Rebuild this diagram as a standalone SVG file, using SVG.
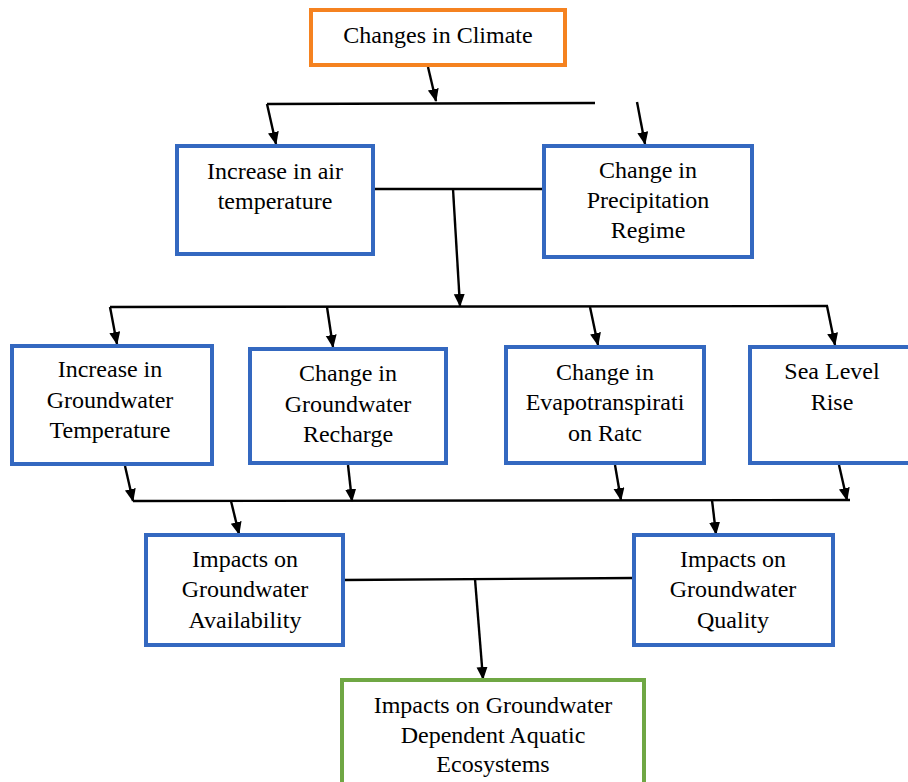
<svg xmlns="http://www.w3.org/2000/svg" width="908" height="782" viewBox="0 0 908 782">
<defs>
<style>
.box{fill:#fff;stroke-width:4}
.blue{stroke:#3468C0}
.orange{stroke:#F58220}
.green{stroke:#6FA744}
text{font-family:"Liberation Serif","Times New Roman",serif;font-size:24px;fill:#000;text-anchor:middle}
.ln{stroke:#000;stroke-width:2.4;fill:none}
.ar{stroke:#000;stroke-width:2.4;fill:none;marker-end:url(#ah)}
</style>
<marker id="ah" markerUnits="userSpaceOnUse" markerWidth="14" markerHeight="12" refX="12" refY="5.5" orient="auto">
<path d="M0,0 L13,5.5 L0,11 Z" fill="#000"/>
</marker>
</defs>
<rect width="908" height="782" fill="#fff"/>
<g id="connectors">
<line class="ar" x1="428" y1="67" x2="436" y2="101"/>
<line class="ln" x1="267" y1="104" x2="595" y2="103"/>
<line class="ar" x1="267" y1="104" x2="276" y2="144"/>
<line class="ar" x1="637" y1="102" x2="645" y2="144"/>
<line class="ln" x1="373" y1="189" x2="544" y2="189"/>
<line class="ar" x1="453" y1="189" x2="460" y2="306"/>
<line class="ln" x1="110" y1="307" x2="828" y2="306"/>
<line class="ar" x1="110" y1="307" x2="117" y2="344"/>
<line class="ar" x1="327" y1="307" x2="333" y2="347"/>
<line class="ar" x1="590" y1="307" x2="598" y2="345"/>
<line class="ar" x1="827" y1="306" x2="835" y2="345"/>
<line class="ar" x1="125" y1="466" x2="133" y2="501"/>
<line class="ar" x1="348" y1="465" x2="352" y2="501"/>
<line class="ar" x1="615" y1="465" x2="621" y2="500"/>
<line class="ar" x1="839" y1="465" x2="847" y2="500"/>
<line class="ln" x1="133" y1="501" x2="850" y2="500"/>
<line class="ar" x1="231" y1="501" x2="239" y2="534"/>
<line class="ar" x1="712" y1="500" x2="716" y2="534"/>
<line class="ln" x1="343" y1="580" x2="634" y2="578"/>
<line class="ar" x1="475" y1="579" x2="483" y2="679"/>
</g>
<g id="climate">
<rect class="box orange" x="311" y="10" width="254" height="55"/>
<text x="438" y="43">Changes in Climate</text>
</g>
<g id="air-temp">
<rect class="box blue" x="177" y="146" width="196" height="108"/>
<text x="275" y="179">Increase in air</text>
<text x="275" y="209">temperature</text>
</g>
<g id="precip">
<rect class="box blue" x="544" y="146" width="208" height="111"/>
<text x="648" y="178">Change in</text>
<text x="648" y="208">Precipitation</text>
<text x="648" y="238">Regime</text>
</g>
<g id="gw-temp">
<rect class="box blue" x="12" y="346" width="200" height="118"/>
<text x="110" y="377">Increase in</text>
<text x="110" y="408">Groundwater</text>
<text x="110" y="438">Temperature</text>
</g>
<g id="gw-recharge">
<rect class="box blue" x="250" y="349" width="196" height="114"/>
<text x="348" y="381">Change in</text>
<text x="348" y="412">Groundwater</text>
<text x="348" y="442">Recharge</text>
</g>
<g id="evapo">
<rect class="box blue" x="506" y="347" width="198" height="116"/>
<text x="605" y="380">Change in</text>
<text x="605" y="410">Evapotranspirati</text>
<text x="605" y="441">on Ratc</text>
</g>
<g id="sea-level">
<rect class="box blue" x="750" y="347" width="170" height="116"/>
<text x="832" y="379">Sea Level</text>
<text x="832" y="410">Rise</text>
</g>
<g id="availability">
<rect class="box blue" x="146" y="535" width="197" height="110"/>
<text x="245" y="567">Impacts on</text>
<text x="245" y="597">Groundwater</text>
<text x="245" y="628">Availability</text>
</g>
<g id="quality">
<rect class="box blue" x="634" y="535" width="199" height="110"/>
<text x="733" y="567">Impacts on</text>
<text x="733" y="597">Groundwater</text>
<text x="733" y="628">Quality</text>
</g>
<g id="ecosystems">
<rect class="box green" x="342" y="680" width="302" height="120"/>
<text x="493" y="713">Impacts on Groundwater</text>
<text x="493" y="743">Dependent Aquatic</text>
<text x="493" y="772">Ecosystems</text>
</g>
</svg>
